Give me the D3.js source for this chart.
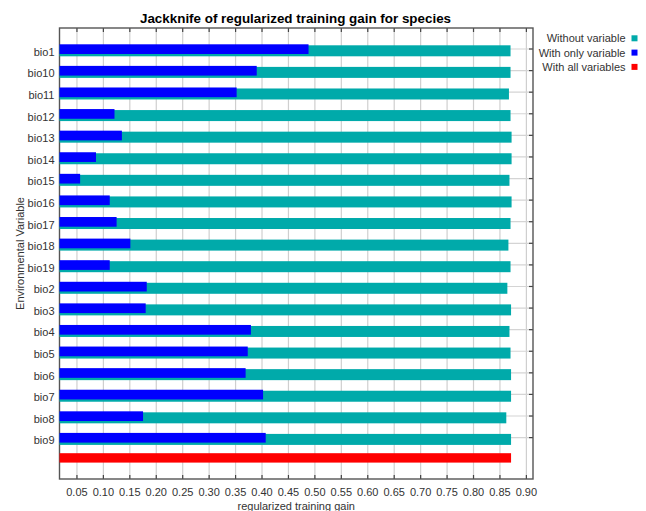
<!DOCTYPE html>
<html><head><meta charset="utf-8">
<script src="https://cdn.jsdelivr.net/npm/d3@7"></script>
<style>body{margin:0;background:#fff}svg{display:block}text{font-family:"Liberation Sans",Arial,sans-serif}</style>
</head><body><svg id="c" width="646" height="511"></svg>
<script>
const categories = ["bio1","bio10","bio11","bio12","bio13","bio14","bio15","bio16","bio17","bio18","bio19","bio2","bio3","bio4","bio5","bio6","bio7","bio8","bio9"];
const withoutVariable = [0.870,0.870,0.867,0.870,0.872,0.872,0.868,0.872,0.870,0.866,0.870,0.864,0.871,0.868,0.870,0.871,0.871,0.862,0.871];
const withOnlyVariable = [0.488,0.390,0.352,0.121,0.135,0.086,0.056,0.112,0.125,0.151,0.112,0.182,0.180,0.379,0.373,0.369,0.402,0.175,0.407];
const withAllVariables = 0.871;
const xTicks = [0.05,0.10,0.15,0.20,0.25,0.30,0.35,0.40,0.45,0.50,0.55,0.60,0.65,0.70,0.75,0.80,0.85,0.90];
const legendLabels = ["Without variable","With only variable","With all variables"];
const colors = ["#00AAAA","#0000FF","#FF0000"];

const svg = d3.select("#c");
const L = 59.5, R = 533, T = 28, B = 479;
const x = d3.scaleLinear().domain([0.017, 0.9125]).range([L, R]);
const rows = categories.concat(["__all"]);
const y = d3.scaleBand().domain(rows).range([T, B]).paddingInner(0).paddingOuter(0.445);
const c = d => y(d) + y.bandwidth()/2;

// gridlines vertical
svg.append("g").selectAll("line").data(xTicks).join("line")
  .attr("x1", d=>x(d)).attr("x2", d=>x(d)).attr("y1", T).attr("y2", B)
  .attr("stroke", "#cfcfcf").attr("stroke-width", 1.2);
// gridlines horizontal at categories
svg.append("g").selectAll("line").data(categories).join("line")
  .attr("x1", L).attr("x2", R).attr("y1", d=>c(d)+0.6).attr("y2", d=>c(d)+0.6)
  .attr("stroke", "#d4d4d4").attr("stroke-width", 1.2);

// tick marks inside top/bottom
svg.append("g").selectAll("line").data(xTicks).join("line")
  .attr("x1", d=>x(d)).attr("x2", d=>x(d)).attr("y1", T).attr("y2", T+4)
  .attr("stroke", "#444").attr("stroke-width", 1.2);
svg.append("g").selectAll("line").data(xTicks).join("line")
  .attr("x1", d=>x(d)).attr("x2", d=>x(d)).attr("y1", B-4).attr("y2", B)
  .attr("stroke", "#444").attr("stroke-width", 1.2);
// right ticks
svg.append("g").selectAll("line").data(categories).join("line")
  .attr("x1", R-4).attr("x2", R).attr("y1", d=>c(d)+0.6).attr("y2", d=>c(d)+0.6)
  .attr("stroke", "#444").attr("stroke-width", 1.2);
// left ticks
svg.append("g").selectAll("line").data(categories).join("line")
  .attr("x1", L).attr("x2", L+4).attr("y1", d=>c(d)+0.6).attr("y2", d=>c(d)+0.6)
  .attr("stroke", "#444").attr("stroke-width", 1.2);

// border
svg.append("rect").attr("x", L).attr("y", T).attr("width", R-L).attr("height", B-T)
  .attr("fill", "none").attr("stroke", "#555").attr("stroke-width", 1.4);

// bars: without (teal)
svg.append("g").selectAll("rect").data(categories).join("rect")
  .attr("x", x.range()[0]).attr("y", d=>c(d)-3.1)
  .attr("width", (d,i)=>x(withoutVariable[i]) - x.range()[0]).attr("height", 11)
  .attr("fill", colors[0]);
// bars: with only (blue)
svg.append("g").selectAll("rect").data(categories).join("rect")
  .attr("x", x.range()[0]).attr("y", d=>c(d)-4.1)
  .attr("width", (d,i)=>x(withOnlyVariable[i]) - x.range()[0]).attr("height", 9.7)
  .attr("fill", colors[1]);
// all variables
svg.append("rect").attr("x", x.range()[0]).attr("y", c("__all")-5.4)
  .attr("width", x(withAllVariables)-x.range()[0]).attr("height", 9.4).attr("fill", colors[2]);

// y labels
svg.append("g").selectAll("text").data(categories).join("text")
  .attr("x", 54.5).attr("y", d=>c(d)+7.4).attr("text-anchor","end")
  .attr("font-size", 11).attr("fill", "#333").text(d=>d);

// x tick labels
svg.append("g").selectAll("text").data(xTicks).join("text")
  .attr("x", d=>x(d)).attr("y", 495.5).attr("text-anchor","middle")
  .attr("font-size", 11).attr("fill", "#333").text(d=>d3.format(".2f")(d));

// axis titles
svg.append("text").attr("x", (L+R)/2).attr("y", 509.5).attr("text-anchor","middle")
  .attr("font-size", 11).attr("fill","#333").text("regularized training gain");
svg.append("text").attr("transform", `translate(24,${(T+B)/2}) rotate(-90)`)
  .attr("text-anchor","middle").attr("font-size", 11).attr("fill","#333").text("Environmental Variable");

// title
svg.append("text").attr("x", 295.5).attr("y", 22.5).attr("text-anchor","middle")
  .attr("font-size", 13.4).attr("font-weight","bold").attr("fill","#000")
  .text("Jackknife of regularized training gain for species");

// legend
const lg = svg.append("g").selectAll("g").data(legendLabels).join("g")
  .attr("transform", (d,i)=>`translate(0,${38.3 + i*14.3})`);
lg.append("text").attr("x", 625.5).attr("y", 4).attr("text-anchor","end")
  .attr("font-size", 11).attr("fill","#333").text(d=>d);
lg.append("rect").attr("x", 631.5).attr("y", -3).attr("width", 6).attr("height", 6)
  .attr("fill", (d,i)=>colors[i]);
</script></body></html>
